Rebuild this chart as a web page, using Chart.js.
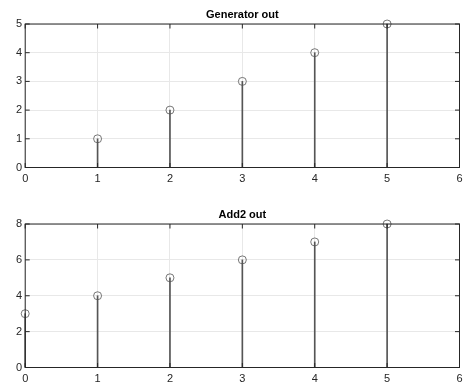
<!DOCTYPE html>
<html>
<head>
<meta charset="utf-8">
<script src="https://cdn.jsdelivr.net/npm/chart.js@4"></script>
<style>
  html, body { margin: 0; padding: 0; background: #fff; }
  .plot { position: absolute; left: 0; width: 465px; }
</style>
</head>
<body>
<div class="plot" style="top:0;height:200px"><canvas id="genChart" width="465" height="200"></canvas></div>
<div class="plot" style="top:200px;height:185px"><canvas id="addChart" width="465" height="185"></canvas></div>
<script>
// data
const genX = [1, 2, 3, 4, 5];
const genY = [1, 2, 3, 4, 5];
const addX = [0, 1, 2, 3, 4, 5];
const addY = [3, 4, 5, 6, 7, 8];
const xTicks = [0, 1, 2, 3, 4, 5, 6];

const axisColor = '#262626';
const stemColor = '#555555';
const font = { family: 'Liberation Sans, Arial, sans-serif', size: 11 };

// MATLAB style box with inward ticks on all four sides
const boxPlugin = {
    id: 'box',
    afterDatasetsDraw(chart) {
        const { ctx, chartArea: a, scales } = chart;
        const len = 4.5;
        ctx.save();
        ctx.strokeStyle = axisColor;
        ctx.lineWidth = 1;
        ctx.beginPath();
        scales.x.ticks.forEach(t => {
            const px = scales.x.getPixelForValue(t.value);
            ctx.moveTo(px, a.bottom); ctx.lineTo(px, a.bottom - len);
            ctx.moveTo(px, a.top); ctx.lineTo(px, a.top + len);
        });
        scales.y.ticks.forEach(t => {
            const py = scales.y.getPixelForValue(t.value);
            ctx.moveTo(a.left, py); ctx.lineTo(a.left + len, py);
            ctx.moveTo(a.right, py); ctx.lineTo(a.right - len, py);
        });
        ctx.stroke();
        ctx.strokeRect(a.left, a.top, a.right - a.left, a.bottom - a.top);
        ctx.restore();
    }
};

function stemChart(id, title, xs, ys, yMax, yStep, xAxisHeight) {
    const pts = xs.map((x, i) => ({ x: x, y: ys[i] }));
    return new Chart(document.getElementById(id).getContext('2d'), {
        type: 'scatter',
        data: {
            datasets: [{
                type: 'bar',
                data: pts,
                backgroundColor: stemColor,
                barThickness: 1,
                clip: false
            }, {
                type: 'scatter',
                data: pts,
                pointStyle: 'circle',
                pointRadius: 4,
                pointBorderWidth: 0.8,
                borderColor: '#555',
                backgroundColor: 'rgba(0,0,0,0)',
                clip: false
            }]
        },
        options: {
            responsive: false,
            animation: false,
            layout: { padding: { left: 0, right: 5.5, top: 0, bottom: 0 } },
            plugins: {
                legend: { display: false },
                tooltip: { enabled: false },
                title: {
                    display: true,
                    fullSize: false,
                    text: title,
                    color: '#000',
                    font: { family: font.family, size: 11, weight: 'bold' },
                    padding: { top: 8.5, bottom: 2.3 }
                }
            },
            scales: {
                x: {
                    type: 'linear',
                    min: 0,
                    max: 6,
                    offset: false,
                    afterBuildTicks: s => { s.ticks = xTicks.map(v => ({ value: v })); },
                    grid: { color: '#e8e8e8', drawTicks: true, tickLength: 5, tickColor: 'rgba(0,0,0,0)', offset: false },
                    border: { display: false },
                    ticks: { color: axisColor, font: font, padding: 0, maxRotation: 0 },
                    afterFit: s => { s.height = xAxisHeight; }
                },
                y: {
                    min: 0,
                    max: yMax,
                    grid: { color: '#e8e8e8', drawTicks: false },
                    border: { display: false },
                    ticks: { stepSize: yStep, color: axisColor, font: font, padding: 3 },
                    afterFit: s => { s.width = 25.2; }
                }
            }
        },
        plugins: [boxPlugin]
    });
}

stemChart('genChart', 'Generator out', genX, genY, 5, 1, 32.5);
stemChart('addChart', 'Add2 out', addX, addY, 8, 2, 17.5);
</script>
</body>
</html>
